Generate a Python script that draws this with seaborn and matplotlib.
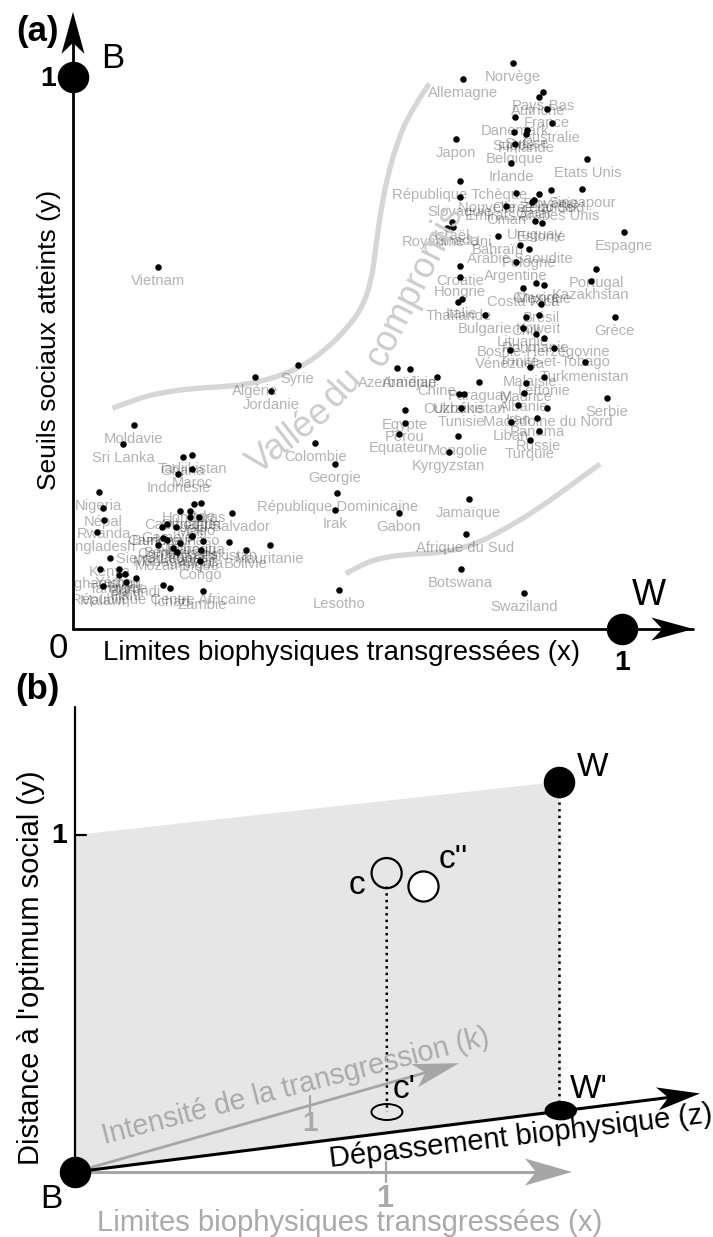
import matplotlib
matplotlib.use("Agg")
import matplotlib.pyplot as plt
import numpy as np
import seaborn as sns
from matplotlib.patches import Polygon, Ellipse, PathPatch
from matplotlib.path import Path
from matplotlib.transforms import IdentityTransform

W_PX, H_PX = 713, 1237

countries = ["Norvège","Allemagne","Pays-Bas","Autriche","France","Australie","Danemark","Suède","Suisse","Finlande",
 "Belgique","Irlande","Japon","Etats Unis","République Tchèque","Singapour","Slovaquie","Nouvelle Zélande","Corée du Sud","Slovénie",
 "Qatar","Emirats Arabes Unis","Oman","Uruguay","Estonie","Espagne","Israël","Canada","Royaume-Uni","Bahraïn",
 "Arabie Saoudite","Pologne","Argentine","Croatie","Hongrie","Portugal","Kazakhstan","Costa Rica","Chypre","Mexique",
 "Brésil","Italie","Thaïlande","Bulgarie","Grèce","Koweït","Chili","Lituanie","Roumanie","Bosnie-Herzégovine",
 "Trinité-et-Tobago","Vénézuela","Turkmenistan","Malaisie","Lettonie","Maurice","Albanie","Serbie","Macédoine du Nord","Iran",
 "Panama","Liban","Russie","Turquie","Azerbaïdjan","Arménie","Chine","Paraguay","Ukraine","Ouzbékistan",
 "Tunisie","Egypte","Pérou","Equateur","Mongolie","Kyrgyzstan","Vietnam","Algérie","Syrie","Jordanie",
 "Moldavie","Sri Lanka","Colombie","Georgie","République Dominicaine","Irak","Lesotho","Gabon","Jamaïque","Afrique du Sud",
 "Botswana","Swaziland","Tadjikistan","Ghana","Maroc","Indonésie","Nigeria","Népal","Rwanda","Bangladesh",
 "Bénin","Comores","Nicaragua","Laos","Pakistan","Mauritanie","Sierra Leone","Guatemala","Madagascar","Mozambique",
 "Angola","Bolivie","Congo","Kenya","Afghanistan","Yémen","Tanzanie","Niger","Burundi","Haïti",
 "Malawi","République Centre Africaine","Tchad","Zambie","Honduras","Inde","Cambodge","Ouganda","El Salvador","Mali",
 "Togo","Cameroun","Gambie","Burkina Faso","Djibouti"]
limits_x = [.802,.711,.857,.848,.863,.873,.806,.803,.827,.826,
 .805,.798,.698,.937,.705,.928,.705,.807,.848,.871,
 .840,.836,.789,.842,.854,1.004,.690,.692,.681,.774,
 .814,.830,.807,.705,.705,.953,.943,.820,.843,.858,
 .853,.708,.702,.750,.987,.848,.825,.820,.843,.858,
 .877,.796,.932,.832,.858,.825,.822,.973,.864,.811,
 .846,.797,.848,.832,.591,.614,.663,.740,.703,.713,
 .707,.605,.604,.594,.701,.684,.155,.331,.409,.361,
 .111,.091,.441,.477,.481,.477,.485,.593,.721,.715,
 .706,.821,.217,.200,.217,.192,.047,.055,.057,.044,
 .164,.172,.216,.236,.285,.358,.155,.195,.183,.189,
 .234,.315,.231,.067,.049,.083,.083,.095,.114,.097,
 .055,.164,.177,.236,.220,.233,.195,.214,.290,.214,
 .230,.162,.172,.187,.216]
social_y = [1.025,.996,.973,.964,.942,.916,.927,.900,.904,.897,
 .878,.845,.888,.852,.812,.797,.782,.789,.788,.795,
 .777,.774,.767,.739,.736,.720,.737,.729,.726,.712,
 .696,.688,.665,.657,.637,.653,.630,.618,.626,.624,
 .589,.597,.592,.569,.566,.569,.565,.545,.534,.527,
 .509,.505,.483,.474,.456,.446,.428,.418,.401,.405,
 .382,.375,.358,.342,.472,.471,.457,.447,.425,.425,
 .400,.396,.373,.353,.349,.321,.656,.457,.478,.431,
 .370,.335,.337,.299,.246,.216,.071,.211,.236,.172,
 .109,.066,.315,.312,.290,.281,.248,.220,.197,.175,
 .164,.162,.168,.159,.158,.152,.153,.155,.147,.139,
 .143,.144,.124,.129,.108,.109,.098,.100,.092,.085,
 .077,.079,.074,.069,.227,.229,.214,.214,.211,.202,
 .203,.185,.190,.185,.168]

valley_upper_x = [.072,.110,.158,.219,.292,.341,.389,.426,.462,.499,.529,.544,.550,.559,.571,.590,.614,.649]
valley_upper_y = [.400,.415,.428,.436,.440,.448,.463,.481,.508,.544,.586,.635,.680,.747,.813,.880,.937,.988]
valley_lower_x = [.497,.529,.571,.620,.675,.735,.790,.845,.905,.960]
valley_lower_y = [.100,.119,.131,.136,.138,.154,.183,.216,.259,.299]

plane_x = [0, 0, 1.556, 1.562]
plane_y = [0, 1, 1.158, .182]
point_W = (1.556, 1.158)
point_Wp = (1.562, .182)
point_c = (1.002, .887)
point_cpp = (1.119, .849)
point_cp = (1.003, .178)
tip_z = (2.010, .233)
tip_k = (1.235, .323)
tip_x = (1.598, 0)
top_y = 1.380
tick_k_x = .757
GRAY_ARROW = "#a6a6a6"

sns.set_style("white")
plt.rcParams["font.family"] = ["Liberation Sans", "DejaVu Sans"]

fig = plt.figure(figsize=(W_PX / 100, H_PX / 100), dpi=100)

def T(px, py, s, size, color="black", weight="normal", rot=0, alpha=None, zorder=6):
    fig.text(px / W_PX, 1 - py / H_PX, s, fontsize=size, color=color, fontweight=weight,
             rotation=rot, rotation_mode="anchor", ha="center", va="center", alpha=alpha, zorder=zorder)

def head(ax, tail, tip, length, width, color, notch=11):
    a = ax.transData.transform(tail)
    b = ax.transData.transform(tip)
    u = (b - a) / np.hypot(*(b - a))
    n = np.array([-u[1], u[0]])
    pts = [b, b - u * length + n * width / 2, b - u * (length - notch), b - u * length - n * width / 2]
    ax.add_patch(Polygon(pts, closed=True, facecolor=color, edgecolor="none",
                         transform=IdentityTransform(), clip_on=False, zorder=5))

def line(ax, xs, ys, color, lw, z=3, **kw):
    sns.lineplot(x=xs, y=ys, ax=ax, color=color, linewidth=lw, sort=False, estimator=None,
                 legend=False, clip_on=False, zorder=z, **kw)

def smooth(ax, xs, ys, color, lw, z=1):
    pts = list(zip(xs, ys))
    verts = [pts[0]]
    codes = [Path.MOVETO]
    for i in range(1, len(pts) - 1):
        mid = ((pts[i][0] + pts[i + 1][0]) / 2, (pts[i][1] + pts[i + 1][1]) / 2)
        verts += [pts[i], mid if i < len(pts) - 2 else pts[i + 1]]
        codes += [Path.CURVE3, Path.CURVE3]
    ax.add_patch(PathPatch(Path(verts, codes), facecolor="none", edgecolor=color, lw=lw,
                           capstyle="butt", zorder=z, clip_on=False))

# ---------- panel (a)
top_px = 40
ax = fig.add_axes([73 / W_PX, 1 - 629 / H_PX, (651 - 73) / W_PX, (629 - top_px) / H_PX])
ax.set_xlim(0, 578 / 549)
ax.set_ylim(0, (629 - top_px) / 552)
ax.axis("off")

smooth(ax, valley_upper_x, valley_upper_y, "#d6d6d6", 3.8)
smooth(ax, valley_lower_x, valley_lower_y, "#d6d6d6", 3.8)

for n, xv, yv in zip(countries, limits_x, social_y):
    ax.annotate(n, (xv, yv), xytext=(0, -10.2), textcoords="offset points", ha="center", va="center",
                fontsize=10.6, color="black", alpha=0.3, zorder=2, annotation_clip=False, clip_on=True)

sns.scatterplot(x=limits_x, y=social_y, ax=ax, color="black", s=22, linewidth=0, zorder=4, legend=False)

line(ax, [0, 0], [0, 1.10], "black", 2.0, z=3)
line(ax, [0, 1.13], [0, 0], "black", 2.0, z=3)
head(ax, (0, 0), (0, 1.118), 42, 23, "black")
head(ax, (0, 0), (1.130, 0), 42, 23, "black")
sns.scatterplot(x=[0, 1], y=[1, 0], ax=ax, color="black", s=515, linewidth=0, zorder=5, clip_on=False, legend=False)

T(290, 438, "Vallée", 26, color="#cccccc", rot=38, zorder=1)
T(343, 388, "du", 26, color="#cccccc", rot=46, zorder=1)
T(415, 285, "compromis", 26, color="#cccccc", rot=63, zorder=1)
T(49, 340, "Seuils sociaux atteints (y)", 19, rot=90)
T(342, 653, "Limites biophysiques transgressées (x)", 19.9)
T(37, 31, "(a)", 25, weight="bold")
T(113, 58, "B", 25)
T(48, 79, "1", 20.5, weight="bold")
T(58, 648, "0", 25)
T(649, 596, "W", 26)
T(622, 663, "1", 20.5, weight="bold")

# ---------- panel (b)
ax2 = fig.add_axes([0, 0, 1, (1237 - 680) / H_PX])
ax2.set_xlim(-75 / 311, 638 / 311)
ax2.set_ylim(-65 / 337, 492 / 337)
ax2.axis("off")
ax2.patch.set_alpha(0)

ax2.fill(plane_x, plane_y, color="#e6e6e6", linewidth=0, zorder=0)

line(ax2, [0, 0], [0, top_y], "black", 1.6)
line(ax2, [0, .035], [1, 1], "black", 1.6)
line(ax2, [0, tip_k[0] - .05], [0, tip_k[1] - .013], GRAY_ARROW, 2.0, z=2)
line(ax2, [tick_k_x, tick_k_x], [.175, .225], GRAY_ARROW, 1.6, z=2)
head(ax2, (0, 0), tip_k, 46, 24, GRAY_ARROW)
line(ax2, [0, tip_x[0] - .05], [0, 0], GRAY_ARROW, 2.2, z=2)
line(ax2, [1, 1], [-.03, .03], GRAY_ARROW, 1.6, z=2)
head(ax2, (0, 0), tip_x, 47, 27, GRAY_ARROW)
line(ax2, [0, tip_z[0] - .05], [0, tip_z[1] - .006], "black", 2.2)
head(ax2, (0, 0), tip_z, 43, 23, "black")

line(ax2, [point_W[0], point_Wp[0] - .006], [point_W[1], point_Wp[1]], "black", 1.8, linestyle=":")
line(ax2, [point_c[0], point_cp[0]], [point_c[1] - .04, point_cp[1]], "black", 1.8, linestyle=":")

sns.scatterplot(x=[0, point_W[0]], y=[0, point_W[1]], ax=ax2, color="black", s=515, linewidth=0, zorder=6, legend=False)
sns.scatterplot(x=[point_c[0]], y=[point_c[1]], ax=ax2, facecolor="none",
                edgecolor="black", s=470, linewidth=1.6, zorder=6, legend=False)
sns.scatterplot(x=[point_cpp[0]], y=[point_cpp[1]], ax=ax2, color="white",
                edgecolor="black", s=470, linewidth=1.6, zorder=6, legend=False)
ax2.add_patch(Ellipse(point_Wp, 31 / 311, 18 / 337, facecolor="black", edgecolor="black", zorder=6))
ax2.add_patch(Ellipse(point_cp, 31 / 311, 16 / 337, facecolor="none", edgecolor="black", lw=1.4, zorder=6))

T(296, 1086, "Intensité de la transgression (k)", 20.6, color="#aaaaaa", rot=14.5, zorder=4)
T(521, 1137, "Dépassement biophysique (z)", 21, rot=6.7)
T(350, 1223, "Limites biophysiques transgressées (x)", 21.1, color="#aaaaaa")
T(31, 968, "Distance à l'optimum social (y)", 21, rot=90)
T(37, 690, "(b)", 25, weight="bold")
T(59, 836, "1", 20.5, weight="bold")
T(593, 767, "W", 24)
T(589, 1090, "W'", 24)
T(357, 886, "c", 24)
T(453, 860, "c''", 24)
T(404, 1089, "c'", 24)
T(51, 1200, "B", 24)
T(310, 1124, "1", 20, color="#aaaaaa", weight="bold")
T(385, 1199, "1", 22, color="#aaaaaa", weight="bold")

fig.savefig("out.png", dpi=100)
